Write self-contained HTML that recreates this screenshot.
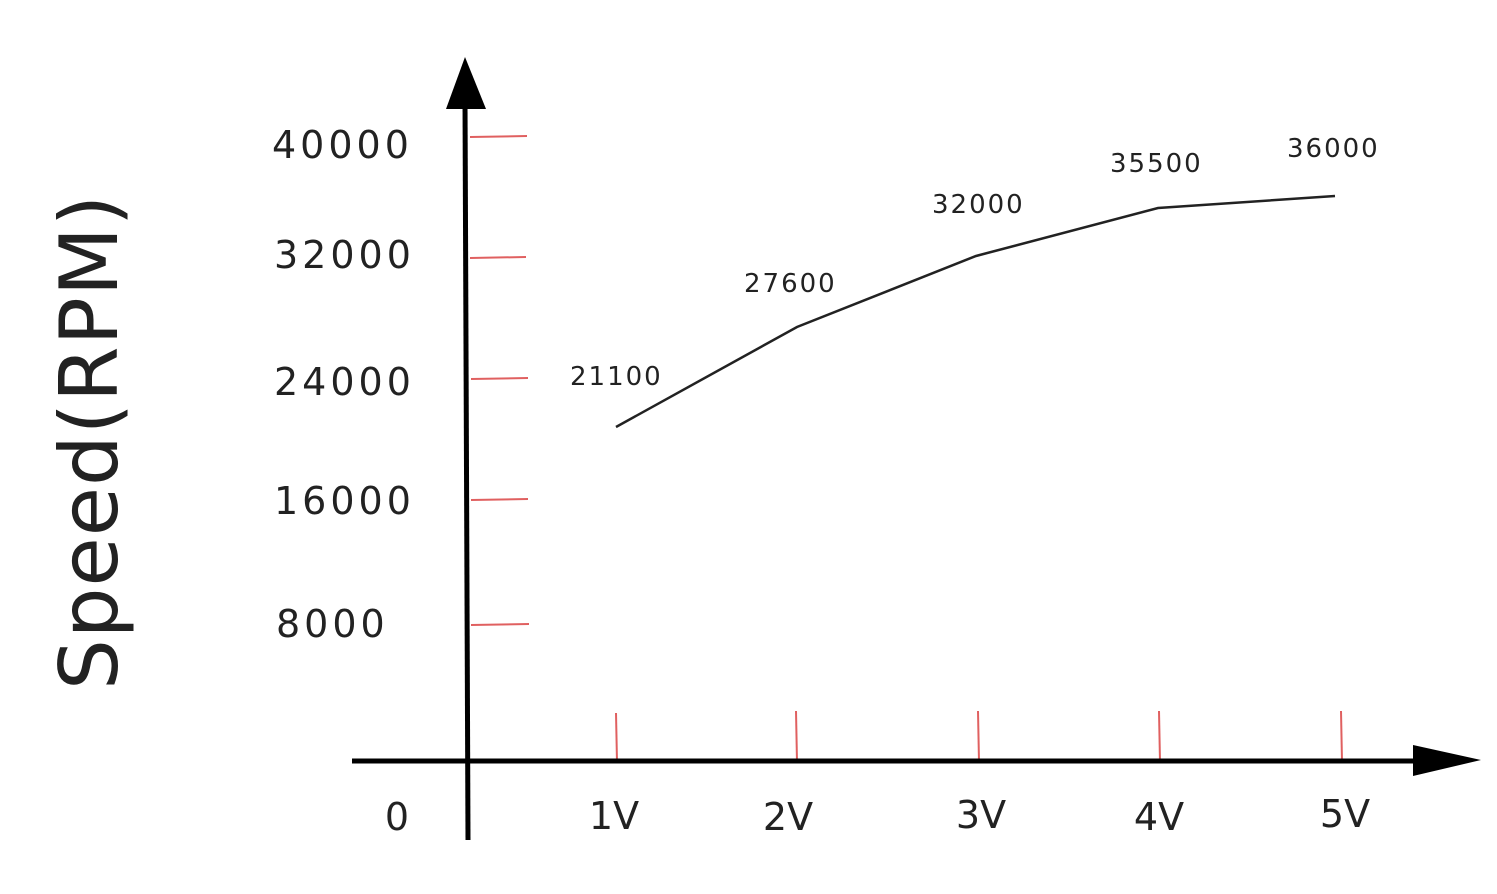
<!DOCTYPE html>
<html><head><meta charset="utf-8"><style>
html,body{margin:0;padding:0;background:#fff;}
svg text{font-family:"DejaVu Sans","Liberation Sans",sans-serif;fill:#222;}
</style></head><body>
<svg width="1497" height="889" viewBox="0 0 1497 889" xmlns="http://www.w3.org/2000/svg">
<rect width="1497" height="889" fill="#fff"/>
<g stroke="#e06060" stroke-width="2">
<line x1="470" y1="137" x2="527" y2="136"/>
<line x1="470" y1="258" x2="526" y2="257"/>
<line x1="471" y1="379" x2="528" y2="378"/>
<line x1="471" y1="500" x2="528" y2="499"/>
<line x1="471" y1="625" x2="529" y2="624"/>
<line x1="616" y1="713" x2="617" y2="762"/>
<line x1="796" y1="711" x2="797" y2="762"/>
<line x1="978" y1="711" x2="979" y2="762"/>
<line x1="1159" y1="711" x2="1160" y2="762"/>
<line x1="1341" y1="711" x2="1342" y2="762"/>
</g>
<line x1="465" y1="100" x2="468" y2="840" stroke="#000" stroke-width="5"/>
<polygon points="446,109 486,109 465,57" fill="#000"/>
<line x1="352" y1="761" x2="1420" y2="761" stroke="#000" stroke-width="5"/>
<polygon points="1413,745 1413,776 1481,760" fill="#000"/>
<polyline points="616,427 797,327 976,256 1158,208 1335,196" fill="none" stroke="#222" stroke-width="2.5"/>
<g font-size="38" letter-spacing="4">
<text x="272" y="158">40000</text>
<text x="274" y="268">32000</text>
<text x="274" y="395">24000</text>
<text x="274" y="514">16000</text>
<text x="276" y="637">8000</text>
</g>
<g font-size="38" text-anchor="middle">
<text x="397" y="830">0</text>
<text x="614" y="829">1V</text>
<text x="788" y="830">2V</text>
<text x="981" y="828">3V</text>
<text x="1159" y="830">4V</text>
<text x="1345" y="827">5V</text>
</g>
<g font-size="26" letter-spacing="2">
<text x="570" y="385">21100</text>
<text x="744" y="292">27600</text>
<text x="932" y="213">32000</text>
<text x="1110" y="172">35500</text>
<text x="1287" y="157">36000</text>
</g>
<text transform="translate(117,690) rotate(-90)" font-size="80" letter-spacing="1">Speed(RPM)</text>
</svg>
</body></html>
